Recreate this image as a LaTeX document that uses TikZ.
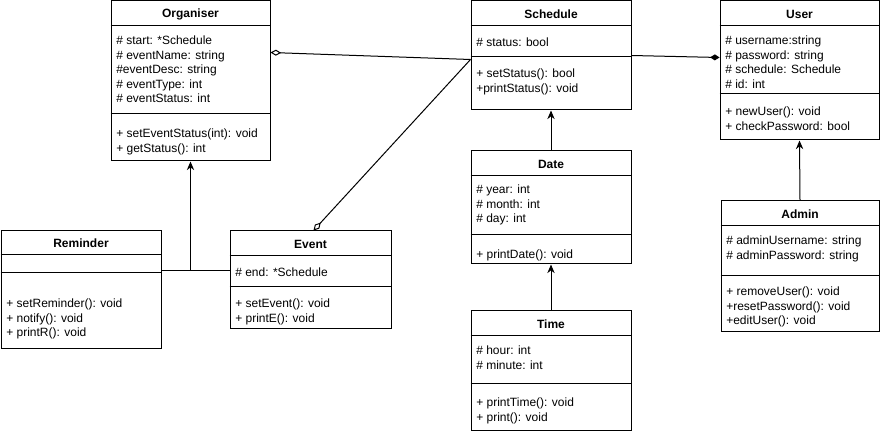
\documentclass[tikz,border=0pt]{standalone}
\usepackage{fontspec}
\setmainfont{Liberation Sans}
\usetikzlibrary{arrows.meta}
\usetikzlibrary{calc}
\usetikzlibrary{fit}
\tikzset{
    cls/.style={draw=black,line width=0.75pt,inner sep=0pt},
    ctitle/.style={font=\bfseries\fontsize{9}{10.8}\selectfont,inner sep=0pt},
    members/.style={anchor=north west,align=left,inner sep=0pt,
        font=\fontsize{9}{10.8}\selectfont,execute at begin node=\strut},
    inherit/.style={line width=0.75pt,-{Stealth[length=6.5pt,width=5.5pt]}},
    aggr/.style={line width=0.75pt,{Diamond[open,length=8pt,width=4.5pt]}-},
    comp/.style={line width=0.75pt,-{Diamond[length=7pt,width=4.5pt]}}
}

\begin{document}
\begin{tikzpicture}[x=0.75pt,y=-0.75pt]

\useasboundingbox (0,0) rectangle (881,434);

\def\umlclass (#1) (#2,#3) (#4,#5) (#6,#7)#8{%
    \node [cls,fit={(#2,#3) (#4,#5)}] (#1) {};
    \draw [line width=0.75pt]
        ($(#1.north west)+(0,#6-#3)$) -- ($(#1.north east)+(0,#6-#3)$);
    \draw [line width=0.75pt]
        ($(#1.north west)+(0,#7-#3)$) -- ($(#1.north east)+(0,#7-#3)$);
    \node [ctitle] (#1-title) at ($(#1.north)+(0,#6/2-#3/2+1)$) {#8};
}

\umlclass (org)  (111,1)   (270,161) (26,114)  {Organiser};
\umlclass (sch)  (471,1)   (631,110) (26,57)   {Schedule};
\umlclass (usr)  (720,1)   (879,140) (26,94)   {User};
\umlclass (date) (471,151) (631,264) (176,235) {Date};
\umlclass (time) (471,311) (631,430) (336,384) {Time};
\umlclass (adm)  (721,201) (879,332) (226,276) {Admin};
\umlclass (rem)  (1,231)   (161,349) (255,273) {Reminder};
\umlclass (evt)  (230,231) (391,329) (256,287) {Event};

\node [members] (org-attr) at (116,36) {%
    \# start: *Schedule\\%
    \# eventName: string\\%
    \#eventDesc: string\\%
    \# eventType: int\\%
    \# eventStatus: int};
\node [members] (org-ops) at (116,129) {%
    + setEventStatus(int): void\\%
    + getStatus(): int};

\node [members] (sch-attr) at (476,36) {\# status: bool};
\node [members] (sch-ops) at (476,69) {%
    + setStatus(): bool\\%
    +printStatus(): void};

\node [members] (usr-attr) at (725,36) {%
    \# username:string\\%
    \# password: string\\%
    \# schedule: Schedule\\%
    \# id: int};
\node [members] (usr-ops) at (725,107) {%
    + newUser(): void\\%
    + checkPassword: bool};

\node [members] (date-attr) at (476,185) {%
    \# year: int\\%
    \# month: int\\%
    \# day: int};
\node [members] (date-ops) at (476,248) {+ printDate(): void};

\node [members] (time-attr) at (476,346) {%
    \# hour: int\\%
    \# minute: int};
\node [members] (time-ops) at (476,398) {%
    + printTime(): void\\%
    + print(): void};

\node [members] (adm-attr) at (726,236) {%
    \# adminUsername: string\\%
    \# adminPassword: string};
\node [members] (adm-ops) at (726,287) {%
    + removeUser(): void\\%
    +resetPassword(): void\\%
    +editUser(): void};

\node [members] (rem-ops) at (6,299) {%
    + setReminder(): void\\%
    + notify(): void\\%
    + printR(): void};

\node [members] (evt-attr) at (235,266) {\# end: *Schedule};
\node [members] (evt-ops) at (235,299) {%
    + setEvent(): void\\%
    + printE(): void};

% associations
\draw [aggr] ($(org.north east)+(0,52)$) -- ($(sch.north west)+(0,59)$);
\draw [aggr] ($(evt.north)+(3,0)$) -- ($(sch.north west)+(0,59)$);
\draw [comp] ($(sch.north east)+(0,55)$) -- ($(usr.north west)+(0,57)$);

% inheritance
\coordinate (join) at ($(org.south)+(0,109)$);
\draw [line width=0.75pt] (rem.east |- join) -- (evt.west |- join);
\draw [inherit] (join) -- (org.south);
\draw [inherit] (date.north) -- (sch.south);
\draw [inherit] (time.north) -- (date.south);
\draw [inherit] (adm.north) -- (usr.south);

\end{tikzpicture}
\end{document}
